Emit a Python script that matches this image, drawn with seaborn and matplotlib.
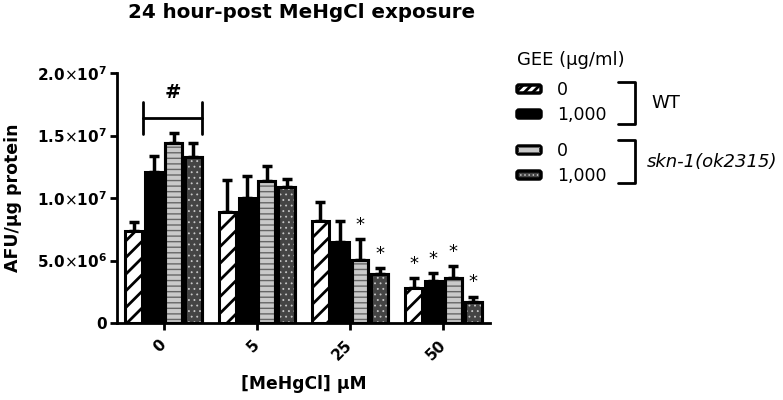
import numpy as np
import pandas as pd
import matplotlib
matplotlib.use("Agg")
import matplotlib.pyplot as plt
from matplotlib.patches import Rectangle, FancyBboxPatch
import seaborn as sns

# ---------------- data ----------------
concentrations = ["0", "5", "25", "50"]
groups = ["WT 0", "WT 1,000", "skn-1 0", "skn-1 1,000"]
wt_0 = [7.38e6, 8.9e6, 8.2e6, 2.83e6]
wt_1000 = [1.205e7, 1.0e7, 6.5e6, 3.39e6]
skn_0 = [1.437e7, 1.14e7, 5.04e6, 3.6e6]
skn_1000 = [1.325e7, 1.085e7, 3.9e6, 1.7e6]
wt_0_err = [0.72e6, 2.54e6, 1.45e6, 0.74e6]
wt_1000_err = [1.31e6, 1.8e6, 1.7e6, 0.61e6]
skn_0_err = [0.83e6, 1.16e6, 1.66e6, 0.96e6]
skn_1000_err = [1.15e6, 0.65e6, 0.5e6, 0.4e6]
# significance stars: (group index, concentration index)
stars = [(2, 2), (3, 2), (0, 3), (1, 3), (2, 3), (3, 3)]
yticks = [0, 5e6, 1e7, 1.5e7, 2e7]
ytick_labels = ["0", "5.0$\\times$10$^{\\mathbf{6}}$", "1.0$\\times$10$^{\\mathbf{7}}$",
                "1.5$\\times$10$^{\\mathbf{7}}$", "2.0$\\times$10$^{\\mathbf{7}}$"]
legend_labels = ["0", "1,000", "0", "1,000"]

values = [wt_0, wt_1000, skn_0, skn_1000]
errors = [wt_0_err, wt_1000_err, skn_0_err, skn_1000_err]

rows = []
for g, vals in zip(groups, values):
    for c, v in zip(concentrations, vals):
        rows.append({"conc": c, "group": g, "value": v})
df = pd.DataFrame(rows)

# ---------------- style ----------------
sns.set_style("ticks")
plt.rcParams["font.family"] = ["DejaVu Sans"]
plt.rcParams["mathtext.fontset"] = "dejavusans"
plt.rcParams["hatch.linewidth"] = 2.0
for k in ("text.color", "axes.labelcolor", "xtick.color", "ytick.color",
          "axes.edgecolor"):
    plt.rcParams[k] = "black"


def set_hlw(patch, lw):
    if hasattr(patch, "set_hatch_linewidth"):
        patch.set_hatch_linewidth(lw)


W, H = 783, 400
fig = plt.figure(figsize=(W / 100, H / 100), dpi=100)
ax = fig.add_axes([117 / W, 1 - 323 / H, (490 - 117) / W, (323 - 73) / H])

face = ["white", "black", "#c9c9c9", "#444444"]
sns.barplot(data=df, x="conc", y="value", hue="group", order=concentrations,
            hue_order=groups, palette=face, width=0.85, gap=0.15,
            edgecolor="black", linewidth=2.2, errorbar=None, legend=False,
            saturation=1, ax=ax, zorder=2)

bar_containers = list(ax.containers)
overlay_hatch = {2: ("---", "#666666", 1.0), 3: ("...", "#c8c8c8", 0.6)}
for gi, cont in enumerate(bar_containers):
    xs, tops = [], []
    for p in cont.patches:
        xs.append(p.get_x() + p.get_width() / 2)
        tops.append(p.get_height())
        if gi == 0:
            p.set_hatch("//")
            set_hlw(p, 2.0)
        if gi in overlay_hatch:
            hatch, col, hlw = overlay_hatch[gi]
            r = Rectangle((p.get_x(), 0), p.get_width(), p.get_height(),
                          facecolor="none", edgecolor=col, linewidth=0,
                          hatch=hatch, zorder=2.1)
            set_hlw(r, hlw)
            ax.add_patch(r)
            r2 = Rectangle((p.get_x(), 0), p.get_width(), p.get_height(),
                           facecolor="none", edgecolor="black", linewidth=2.2,
                           zorder=2.2)
            ax.add_patch(r2)
    ax.errorbar(xs, tops, yerr=[np.zeros(len(xs)), errors[gi]], fmt="none",
                ecolor="black", elinewidth=2.5, capsize=3.5, capthick=2.5,
                zorder=1.5)

# stars
for gi, ci in stars:
    p = bar_containers[gi].patches[ci]
    x = p.get_x() + p.get_width() / 2
    y = values[gi][ci] + errors[gi][ci]
    ax.text(x, y + 1.15e6, "*", ha="center", va="center", fontsize=13)

# "#" bracket over concentration 0
p1 = bar_containers[1].patches[0]
p3 = bar_containers[3].patches[0]
bx0 = p1.get_x() - 0.02
bx1 = p3.get_x() + p3.get_width()
by = 1.64e7
ax.plot([bx0, bx1], [by, by], color="black", lw=2, clip_on=False)
for bx in (bx0, bx1):
    ax.plot([bx, bx], [by - 0.13e7, by + 0.13e7], color="black", lw=2, clip_on=False)
ax.text((bx0 + bx1) / 2, 1.84e7, "#", ha="center", va="center",
        fontsize=14, fontweight="bold")

ax.set_xlim(-0.5, 3.5)
ax.set_ylim(0, 2e7)
ax.set_yticks(yticks)
ax.set_yticklabels(ytick_labels, fontsize=11, fontweight="bold")
ax.set_xticks(range(len(concentrations)))
ax.set_xticklabels(concentrations, fontsize=11, fontweight="bold",
                   rotation=45, ha="right", va="center", rotation_mode="anchor")
ax.tick_params(axis="both", width=2, length=5, color="black")
ax.tick_params(axis="x", pad=9)
ax.tick_params(axis="y", pad=2)
ax.set_xlabel("")
ax.set_ylabel("")
sns.despine(ax=ax)
for s in ("left", "bottom"):
    ax.spines[s].set_linewidth(2)

fig.text(302 / W, 1 - 12 / H, "24 hour-post MeHgCl exposure",
         ha="center", va="center", fontsize=14.3, fontweight="bold")
fig.text(13 / W, 1 - 198 / H, "AFU/µg protein", rotation=90,
         ha="center", va="center", fontsize=12.5, fontweight="bold")
fig.text(304 / W, 1 - 384 / H, "[MeHgCl] µM", ha="center", va="center",
         fontsize=12.3, fontweight="bold")

# ---------------- legend (pixel coordinates overlay) ----------------
lg = fig.add_axes([0, 0, 1, 1], zorder=5)
lg.set_xlim(0, W)
lg.set_ylim(H, 0)
lg.axis("off")
lg.text(517, 60, "GEE (µg/ml)", ha="left", va="center", fontsize=13)
sw_y = [89, 114, 150, 175]
sw_hatch = ["////", None, "---", "...."]
sw_hcol = ["black", None, "#666666", "#c8c8c8"]
sw_hlw = [2.0, 0, 1.0, 0.6]
for i in range(4):
    y = sw_y[i]
    box = FancyBboxPatch((517, y - 4), 24, 8,
                         boxstyle="round,pad=0,rounding_size=2",
                         facecolor=face[i], edgecolor="black", linewidth=2.5)
    lg.add_patch(box)
    if sw_hatch[i]:
        hb = Rectangle((518, y - 3), 22, 6, facecolor="none",
                       edgecolor=sw_hcol[i], linewidth=0, hatch=sw_hatch[i])
        set_hlw(hb, sw_hlw[i])
        lg.add_patch(hb)
    lg.text(557, y + 1, legend_labels[i], ha="left", va="center", fontsize=12.5)
for (y0, y1) in [(82, 124), (140, 183)]:
    lg.plot([618, 635, 635, 618], [y0, y0, y1, y1], color="black", lw=2)
lg.text(651, 103, "WT", ha="left", va="center", fontsize=13)
lg.text(647, 162, "skn-1(ok2315)", ha="left", va="center", fontsize=13,
        style="italic")

fig.savefig("out.png", dpi=100)
